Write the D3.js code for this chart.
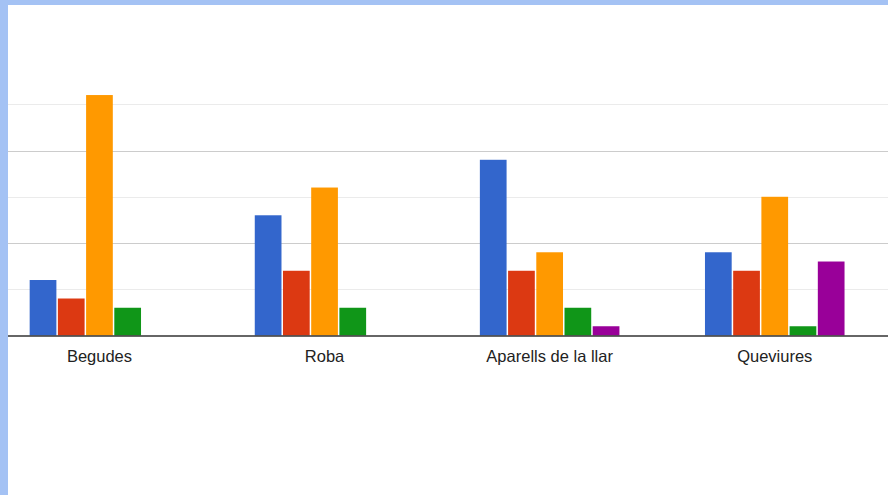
<!DOCTYPE html>
<html>
<head>
<meta charset="utf-8">
<script src="https://cdn.jsdelivr.net/npm/d3@7"></script>
<style>
  html, body { margin: 0; padding: 0; background: #a4c2f4; }
  svg { display: block; }
  .cat-label { font-family: "Liberation Sans", Arial, sans-serif; font-size: 16.5px; fill: #222; }
</style>
</head>
<body>
<svg id="chart"></svg>
<script>
const CATEGORIES = ["Begudes", "Roba", "Aparells de la llar", "Queviures"];
const SERIES = ["s1", "s2", "s3", "s4", "s5"];
const S1 = [6, 13, 19, 9];
const S2 = [4, 7, 7, 7];
const S3 = [26, 16, 9, 15];
const S4 = [3, 3, 3, 1];
const S5 = [0, 0, 1, 8];
const GRID_TICKS = [5, 10, 15, 20, 25];
const COLORS = ["#3366cc", "#dc3912", "#ff9900", "#109618", "#990099"];

const WIDTH = 888;
const HEIGHT = 495;

const seriesValues = [S1, S2, S3, S4, S5];
const data = CATEGORIES.map((c, i) => ({
  key: c,
  values: SERIES.map((s, j) => ({ series: s, value: seriesValues[j][i] })),
}));

const svg = d3.select("#chart").attr("width", WIDTH).attr("height", HEIGHT);

// white panel inside the blue frame
svg.append("rect")
  .attr("x", 8).attr("y", 5)
  .attr("width", WIDTH - 8).attr("height", HEIGHT - 5)
  .attr("fill", "#fff");

// Scales (plot area is cropped on the left, so range starts off-canvas)
const x0 = d3.scaleBand()
  .domain(CATEGORIES)
  .range([-13.1, 887.3])
  .paddingInner(0.38)
  .paddingOuter(0.19);

const x1 = d3.scaleBand()
  .domain(SERIES)
  .range([0, x0.bandwidth()])
  .paddingInner(0.053);

const y = d3.scaleLinear().domain([0, 25]).range([335.5, 104.3]);
const color = d3.scaleOrdinal().domain(SERIES).range(COLORS);

// Gridlines
svg.append("g")
  .selectAll("line")
  .data(GRID_TICKS)
  .join("line")
  .attr("x1", 8)
  .attr("x2", WIDTH)
  .attr("y1", (d) => Math.round(y(d)) + 0.5)
  .attr("y2", (d) => Math.round(y(d)) + 0.5)
  .attr("stroke", (d) => (d % 10 === 0 ? "#cccccc" : "#ebebeb"))
  .attr("stroke-width", 1.2);

// Bars
svg.append("g")
  .selectAll("g")
  .data(data)
  .join("g")
  .attr("transform", (d) => `translate(${x0(d.key)},0)`)
  .selectAll("rect")
  .data((d) => d.values.filter((v) => v.value > 0))
  .join("rect")
  .attr("x", (d) => x1(d.series))
  .attr("width", x1.bandwidth())
  .attr("y", (d) => y(d.value))
  .attr("height", (d) => y(0) - y(d.value))
  .attr("fill", (d) => color(d.series));

// Baseline
svg.append("line")
  .attr("x1", 8)
  .attr("x2", WIDTH)
  .attr("y1", y(0) + 0.5)
  .attr("y2", y(0) + 0.5)
  .attr("stroke", "#333")
  .attr("stroke-width", 1.4);

// Category labels
const xAxis = d3.axisBottom(x0).tickSize(0).tickPadding(0);
svg.append("g")
  .attr("transform", `translate(0, ${y(0)})`)
  .call(xAxis)
  .call((g) => g.select(".domain").remove())
  .selectAll("text")
  .attr("class", "cat-label")
  .attr("dy", null)
  .attr("y", 26);
</script>
</body>
</html>
